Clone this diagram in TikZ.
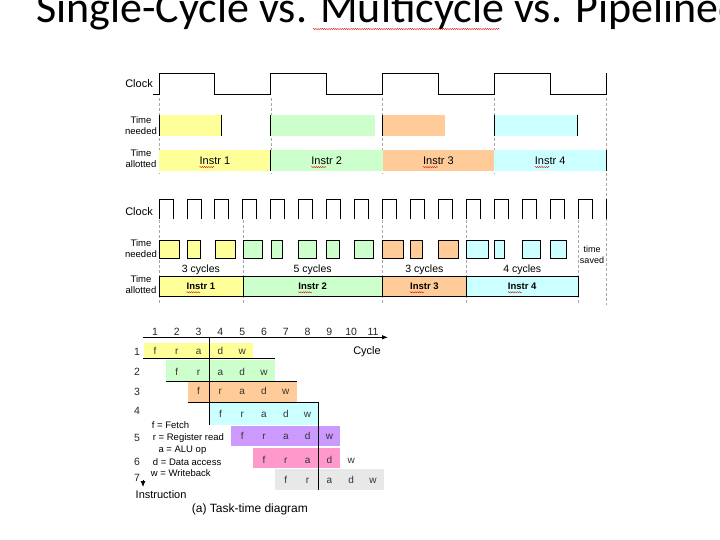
\documentclass[tikz,border=0pt]{standalone}
\usepackage{fontspec}
\setmainfont{Liberation Sans}
\newfontfamily\titlefont{Carlito}
\usepackage{tikz}
\usetikzlibrary{calc, arrows.meta, decorations.pathmorphing}

\definecolor{instryellow}{RGB}{255,255,153}
\definecolor{instrgreen}{RGB}{204,255,204}
\definecolor{instrorange}{RGB}{255,204,153}
\definecolor{instrcyan}{RGB}{204,255,255}
\definecolor{instrpurple}{RGB}{204,153,255}
\definecolor{instrpink}{RGB}{255,153,204}
\definecolor{instrgrey}{RGB}{232,232,232}

\newcommand{\cyclen}{27.94}
\newcommand{\xstart}{159}
\newcommand{\colx}{144.1}
\newcommand{\colw}{21.8}

\begin{document}
\begin{tikzpicture}[x=1pt, y=-1pt,
		wave/.style={line width=0.8pt},
		guide/.style={gray!70, line width=0.5pt, dash pattern=on 3pt off 2pt},
		edge/.style={line width=0.7pt},
		stair/.style={line width=0.8pt},
		spell/.style={red!85!black, line width=0.35pt, decorate, decoration={snake, amplitude=0.6pt, segment length=2.2pt}},
		rowlabel/.style={font=\fontsize{9.5}{11}\selectfont, align=center, inner sep=0},
		bartext/.style={font=\fontsize{11}{13}\selectfont, inner sep=0},
		cell/.style={font=\fontsize{10}{12}\selectfont, text=black!80, inner sep=0, anchor=base},
		num/.style={font=\fontsize{10.5}{12}\selectfont, text=black!85, inner sep=0},
		small/.style={font=\fontsize{9.5}{11}\selectfont, inner sep=0, anchor=west}]

		\path [use as bounding box, clip] (0,0) rectangle (720,540);

		\node [font=\titlefont\fontsize{44}{50}\selectfont, anchor=base west, inner sep=0] (title) at (36,23) {Single-Cycle vs. Multicycle vs. Pipelined};
		\draw [spell] ($(title.base west)+(277,6)$) -- ++(187,0);

		\node [font=\fontsize{11}{13}\selectfont, anchor=east, inner sep=0] (clock one) at (153,84) {Clock};
		\node [rowlabel] (needed one) at (141,125.5) {Time\\needed};
		\node [rowlabel] (allotted one) at (141,158.5) {Time\\allotted};

		\foreach \k in {0,...,3}
			\draw [guide] ({\xstart+4*\cyclen*\k},98) -- ++(0,76);
		\draw [guide] ({\xstart+16*\cyclen},98) -- ++(0,207);

		\draw [wave] (153,94) -- (\xstart,94)
		\foreach \k in {1,...,4}
		{
			-- ++(0,-20.7) -- ++({2*\cyclen},0) -- ++(0,20.7) -- ++({2*\cyclen},0)
		} -- ++(0,-20.7);

		\foreach \k/\w/\col in {0/62/instryellow, 1/104.3/instrgreen, 2/62.6/instrorange, 3/82.7/instrcyan}
			\fill [\col] ({\xstart+4*\cyclen*\k},115) rectangle ++(\w,21);
		\foreach \x in {159, 221, 270.7, 382.4, 494.1, 577.7}
			\draw [edge] (\x,115) -- ++(0,21);

		\foreach \k/\n/\col in {0/1/instryellow, 1/2/instrgreen, 2/3/instrorange, 3/4/instrcyan}
		{
			\fill [\col] ({\xstart+4*\cyclen*\k},150) rectangle ++({4*\cyclen},20.7);
			\node [bartext] (single \n) at ({\xstart+4*\cyclen*(\k+0.5)},160.3) {Instr \n};
			\draw [spell] ($(single \n.base west)+(0,3)$) -- ++(15,0);
		}
		\draw [edge] ({\xstart+4*\cyclen},150) -- ++(0,20.7);
		\draw [edge] ({\xstart+16*\cyclen},150) -- ++(0,20.7);

		\node [font=\fontsize{11}{13}\selectfont, anchor=east, inner sep=0] (clock two) at (153,211.7) {Clock};
		\node [rowlabel] (needed two) at (141,249) {Time\\needed};
		\node [rowlabel] (allotted two) at (141,284.5) {Time\\allotted};
		\node [rowlabel, font=\fontsize{9}{10.5}\selectfont] (saved) at (592,255) {time\\saved};

		\foreach \c in {0,3,8,11,15}
			\draw [guide] ({\xstart+\cyclen*\c},220) -- ++(0,85);

		\foreach \c in {0,...,15}
			\draw [wave] ({\xstart+\cyclen*\c},219.5) -- ++(0,-20) -- ++({\cyclen/2},0) -- ++(0,20);
		\draw [wave] ({\xstart+16*\cyclen},219.5) -- ++(0,-20);

		\foreach \c/\w/\col in {0/20/instryellow, 1/13/instryellow, 2/20/instryellow,
				3/19.5/instrgreen, 4/11/instrgreen, 5/18/instrgreen, 6/13/instrgreen, 7/19/instrgreen,
				8/21/instrorange, 9/12/instrorange, 10/20/instrorange,
				11/21.5/instrcyan, 12/10/instrcyan, 13/18/instrcyan, 14/16/instrcyan}
			\draw [fill=\col, line width=0.5pt] ({\xstart+\cyclen*\c},240) rectangle ++(\w,18.3);

		\foreach \p/\q/\m/\n/\col in {0/3/3/1/instryellow, 3/8/5/2/instrgreen, 8/11/3/3/instrorange, 11/15/4/4/instrcyan}
		{
			\node [num, text=black] (cycles \n) at ({\xstart+\cyclen*(\p+\q)/2},270) {\m\ cycles};
			\draw [fill=\col, line width=0.5pt] ({\xstart+\cyclen*\p},276) rectangle ({\xstart+\cyclen*\q},296);
			\node [bartext, font=\bfseries\fontsize{9.5}{11}\selectfont] (multi \n) at ({\xstart+\cyclen*(\p+\q)/2},286) {Instr \n};
			\draw [spell] ($(multi \n.base west)+(0,3)$) -- ++(14,0);
		}

		\foreach \s/\n/\ya/\yb/\col in {1/5/342.5/358.5/instryellow, 2/5/359.5/380.5/instrgreen,
				3/5/381.5/402/instrorange, 4/5/403/425/instrcyan, 5/5/426/446/instrpurple,
				6/4/447.5/468/instrpink, 7/5/469/490/instrgrey}
			\fill [\col] ({\colx+\colw*(\s-1)},\ya) rectangle ({\colx+\colw*(\s-1+\n)},\yb);

		\foreach \s/\yc in {1/351.7, 2/372.3, 3/391.7, 4/414, 5/436.7, 6/460.3, 7/480.7}
			\foreach \L [count=\j from 0] in {f,r,a,d,w}
				\node [cell] (cell \s\L) at ({\colx+\colw*(\s+\j-0.5)},{\yc+3.2}) {\L};

		\foreach \k in {1,...,11}
			\node [num] (col \k) at ({\colx+\colw*(\k-0.5)},331.7) {\k};
		\foreach \r/\yr in {1/351.7, 2/372.3, 3/391.7, 4/410.7, 5/438.3, 6/461.7, 7/478}
			\node [num] (row \r) at (137,\yr) {\r};

		\draw [stair] (143,358.7) -- ({\colx+6*\colw},358.7);
		\draw [stair] ({\colx+\colw},381) -- ({\colx+7*\colw},381);
		\draw [stair] ({\colx+2*\colw},402.6) -- ({\colx+8*\colw},402.6);
		\draw [stair] ({\colx+3*\colw},337.3) -- ({\colx+3*\colw},425);
		\draw [stair] ({\colx+8*\colw},402.6) -- ({\colx+8*\colw},490);

		\coordinate (origin) at (143,337.3);
		\coordinate (cycle end) at (388,337.3);
		\draw [line width=0.8pt, -{Latex[length=6pt, width=4.5pt]}] (origin) -- (cycle end);
		\node [font=\fontsize{11}{13}\selectfont, anchor=east, inner sep=0] (cycle) at (381,351.7) {Cycle};

		\coordinate (instr top) at (143,480);
		\coordinate (instr end) at (143,487);
		\draw [line width=0.8pt, -{Latex[length=6pt, width=5pt]}] (instr top) -- (instr end);
		\node [font=\fontsize{11}{13}\selectfont, anchor=west, inner sep=0] (instruction) at (135.5,495) {Instruction};
		\node [font=\fontsize{12}{14}\selectfont, anchor=west, inner sep=0] (caption) at (191.7,509) {(a) Task-time diagram};

		\node [small] (fetch) at (151.7,425) {f = Fetch};
		\node [small] (regread) at (152.7,438.3) {r = Register read};
		\node [small] (aluop) at (158.3,450) {a = ALU op};
		\node [small] (dataaccess) at (152.7,461.7) {d = Data access};
		\node [small] (writeback) at (150.7,473.3) {w = Writeback};

	\end{tikzpicture}
\end{document}
